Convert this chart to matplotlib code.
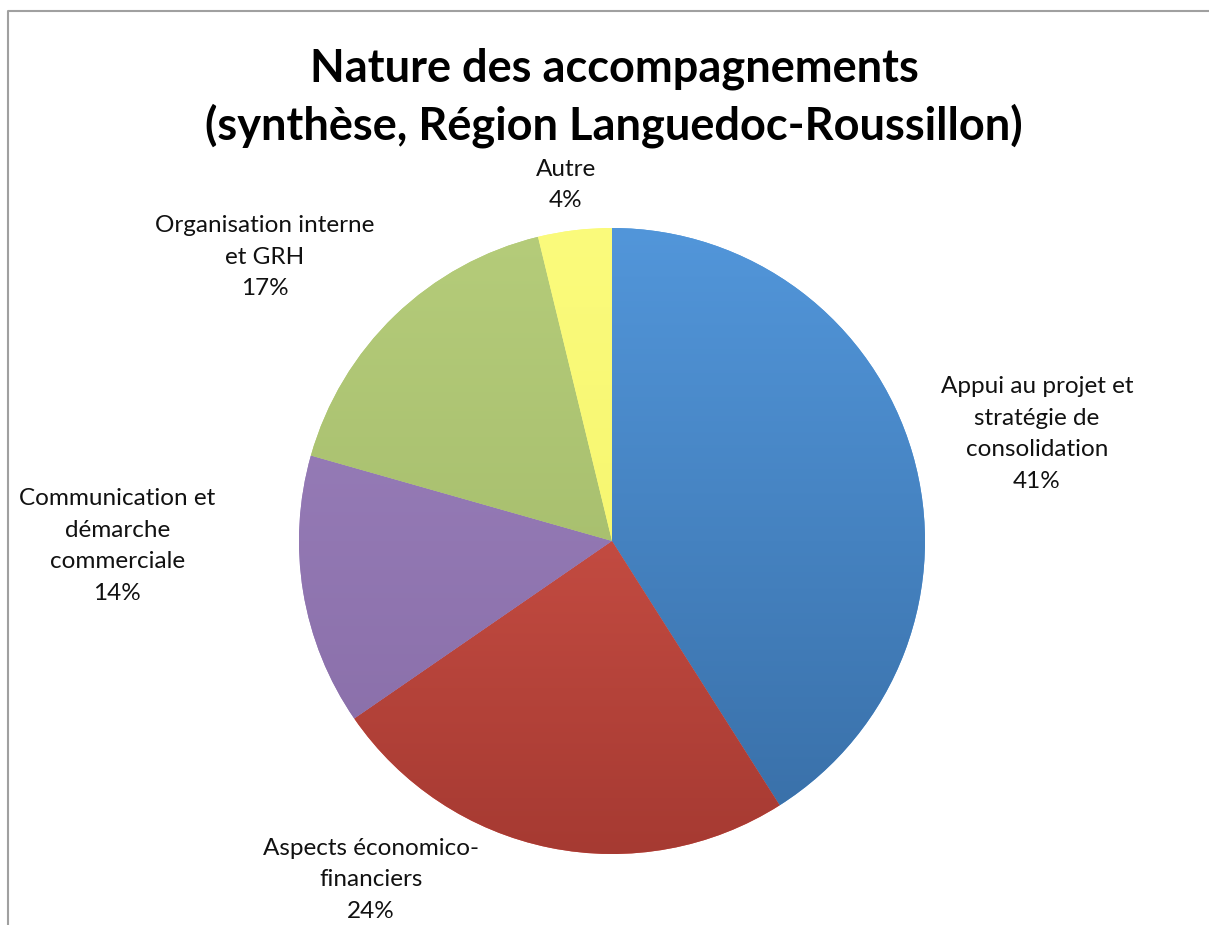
import numpy as np
import matplotlib.pyplot as plt
from matplotlib.colors import to_rgb
from matplotlib.lines import Line2D

plt.rcParams['font.family'] = ['Lato', 'DejaVu Sans']

title = 'Nature des accompagnements\n(synthèse, Région Languedoc-Roussillon)'
categories = ['Appui au projet et\nstratégie de\nconsolidation',
              'Aspects économico-\nfinanciers',
              'Communication et\ndémarche\ncommerciale',
              'Organisation interne\net GRH',
              'Autre']
values = [41.0, 24.4, 14.0, 16.8, 3.8]

# gradient colours (top, bottom) for each slice
top_cols = ['#5296da', '#df5c50', '#9c82be', '#b5cc7a', '#fbfb7c']
bot_cols = ['#386ea6', '#a63a32', '#876ca6', '#9db565', '#f3f366']
# label centres in pie units
label_pos = [(1.358, 0.342), (-0.770, -1.083), (-1.581, -0.016),
             (-1.109, 0.907), (-0.147, 1.137)]

W, H = 1209, 925
fig = plt.figure(figsize=(W / 100, H / 100), dpi=100)
cx, cy, r = 612, 541, 313
ax = fig.add_axes([(cx - r) / W, (H - cy - r) / H, 2 * r / W, 2 * r / H])

wedges, _ = ax.pie(values, colors=top_cols, startangle=90, counterclock=False,
                   radius=1, center=(0, 0), wedgeprops=dict(linewidth=0))

for w, c1, c2 in zip(wedges, top_cols, bot_cols):
    t = np.linspace(0, 1, 256)[:, None, None]
    grad = np.array(to_rgb(c1))[None, None, :] * (1 - t) + np.array(to_rgb(c2))[None, None, :] * t
    im = ax.imshow(grad, extent=[-1, 1, -1, 1], origin='upper', aspect='auto', zorder=2)
    im.set_clip_path(w)

ax.set_xlim(-1, 1)
ax.set_ylim(-1, 1)
ax.axis('off')

total = sum(values)
for cat, v, (x, y) in zip(categories, values, label_pos):
    pct = '%d%%' % round(100 * v / total)
    ax.text(x, y, cat + '\n' + pct, ha='center', va='center', fontsize=17.5,
            linespacing=1.62, color='#111111')

fig.text(614 / W, 1 - 98 / H, title, ha='center', va='center', fontsize=32.5,
         fontweight='bold', linespacing=1.38, color='black')

# outer chart frame (cut at right and bottom)
fig.add_artist(Line2D([8 / W, 8 / W, 1.0], [0, 1 - 11 / H, 1 - 11 / H],
                      transform=fig.transFigure, color='#a0a0a0', linewidth=1.5))

fig.savefig('out.png', dpi=100)
